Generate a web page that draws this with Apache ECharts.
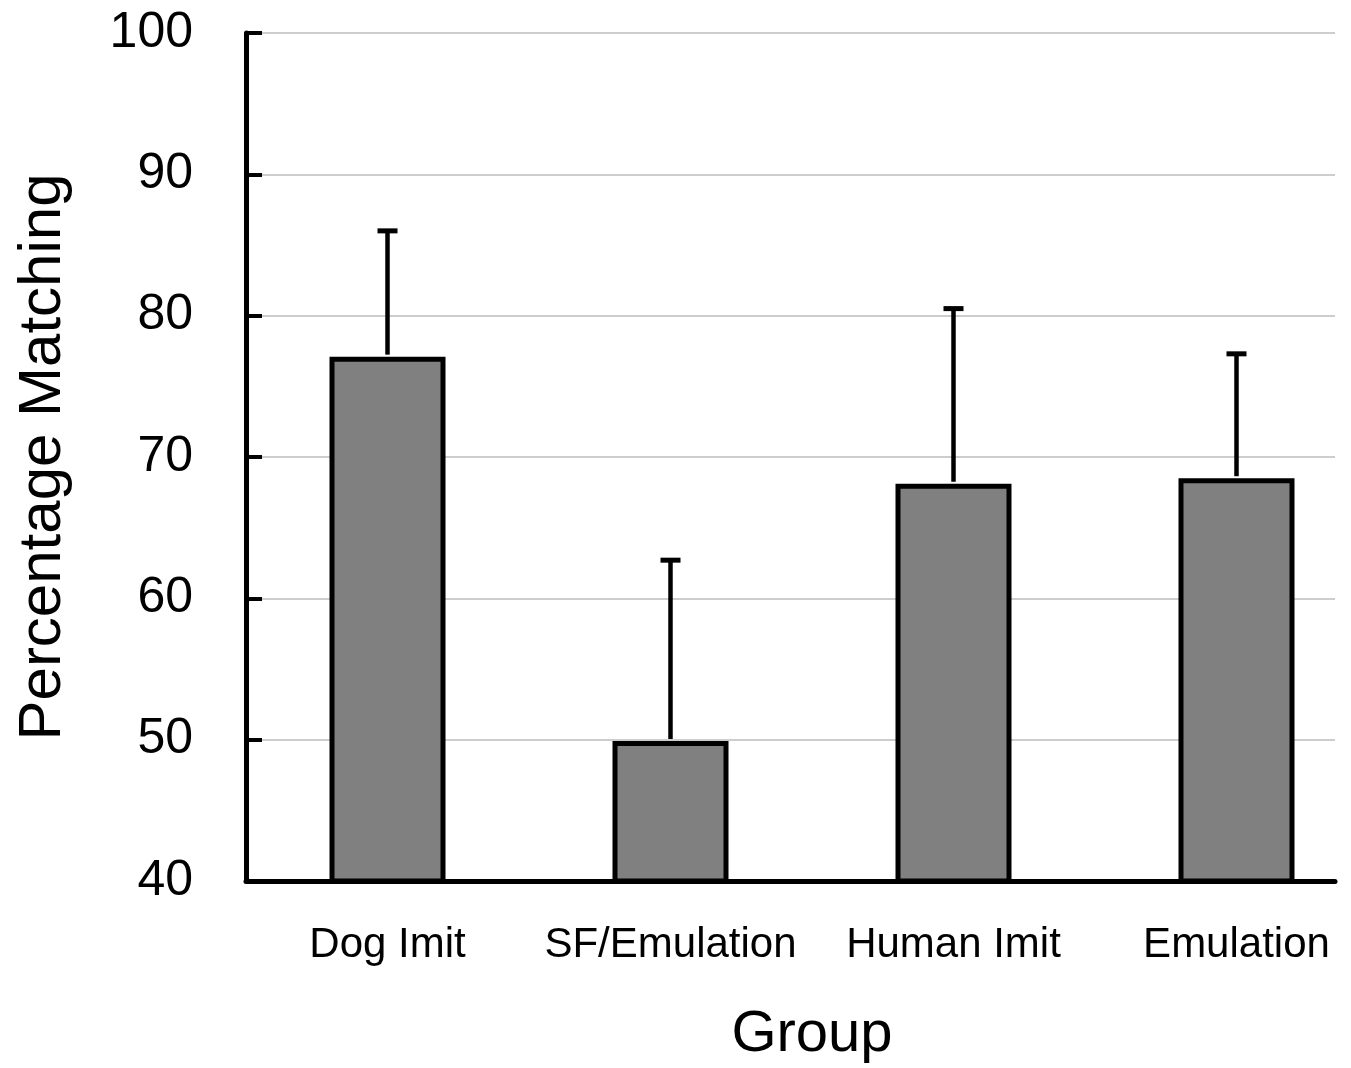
<!DOCTYPE html>
<html>
<head>
<meta charset="utf-8">
<script src="https://cdn.jsdelivr.net/npm/echarts@6/dist/echarts.min.js"></script>
<style>html,body{margin:0;padding:0;background:#fff}#c{width:1351px;height:1068px}</style>
</head>
<body>
<div id="c"></div>
<script>
const categories = ['Dog Imit', 'SF/Emulation', 'Human Imit', 'Emulation'];
const meanValues = [77.1, 49.9, 68.1, 68.5];
const errorTops = [86.0, 62.7, 80.5, 77.3];
const yTicks = [40, 50, 60, 70, 80, 90, 100];

const FONT = '"Liberation Sans", Arial, sans-serif';
const chart = echarts.init(document.getElementById('c'), null, {renderer: 'canvas'});

const errData = categories.map((c, i) => [i, meanValues[i], errorTops[i]]);

chart.setOption({
  backgroundColor: '#ffffff',
  animation: false,
  grid: [
    {left: 246, top: 33, width: 1089, height: 848, outerBoundsMode: 'none'},
    {left: 246, top: 33, width: 1132, height: 848, outerBoundsMode: 'none'}
  ],
  xAxis: [
    {
      gridIndex: 0, type: 'category', data: categories,
      axisLine: {show: true, lineStyle: {color: '#000', width: 5}},
      axisTick: {show: false}, axisLabel: {show: false}, splitLine: {show: false}
    },
    {
      gridIndex: 1, type: 'category', data: categories,
      axisLine: {show: false}, axisTick: {show: false},
      axisLabel: {show: true, interval: 0, color: '#000', fontFamily: FONT, fontSize: 42, margin: 43},
      name: 'Group', nameLocation: 'middle', nameGap: 125,
      nameTextStyle: {color: '#000', fontFamily: FONT, fontSize: 58}
    }
  ],
  yAxis: [
    {
      gridIndex: 0, type: 'value', min: yTicks[0], max: yTicks[yTicks.length - 1], interval: 10,
      axisLine: {show: true, lineStyle: {color: '#000', width: 5}},
      axisTick: {show: true, inside: true, length: 16, lineStyle: {color: '#000', width: 4}},
      axisLabel: {color: '#000', fontFamily: FONT, fontSize: 50, margin: 53},
      splitLine: {show: true, lineStyle: {color: '#bdbdbd', width: 1.5}},
      name: 'Percentage Matching', nameLocation: 'middle', nameGap: 173,
      nameTextStyle: {color: '#000', fontFamily: FONT, fontSize: 60}
    },
    {
      gridIndex: 1, type: 'value', min: yTicks[0], max: yTicks[yTicks.length - 1], interval: 10,
      show: false, splitLine: {show: false}
    }
  ],
  series: [
    {
      type: 'bar', xAxisIndex: 1, yAxisIndex: 1,
      data: meanValues, barWidth: 116,
      itemStyle: {color: '#808080', borderColor: '#000', borderWidth: 5},
      z: 3
    },
    {
      type: 'custom', xAxisIndex: 1, yAxisIndex: 1,
      data: errData, encode: {x: 0, y: 2},
      renderItem: function (params, api) {
        const base = api.coord([api.value(0), api.value(1)]);
        const top = api.coord([api.value(0), api.value(2)]);
        const half = 10;
        return {
          type: 'group',
          children: [
            {type: 'line', shape: {x1: base[0], y1: base[1] - 2, x2: top[0], y2: top[1]},
             style: {stroke: '#000', lineWidth: 4.5}},
            {type: 'line', shape: {x1: top[0] - half, y1: top[1], x2: top[0] + half, y2: top[1]},
             style: {stroke: '#000', lineWidth: 5}}
          ]
        };
      },
      z: 4
    }
  ]
});
</script>
</body>
</html>
